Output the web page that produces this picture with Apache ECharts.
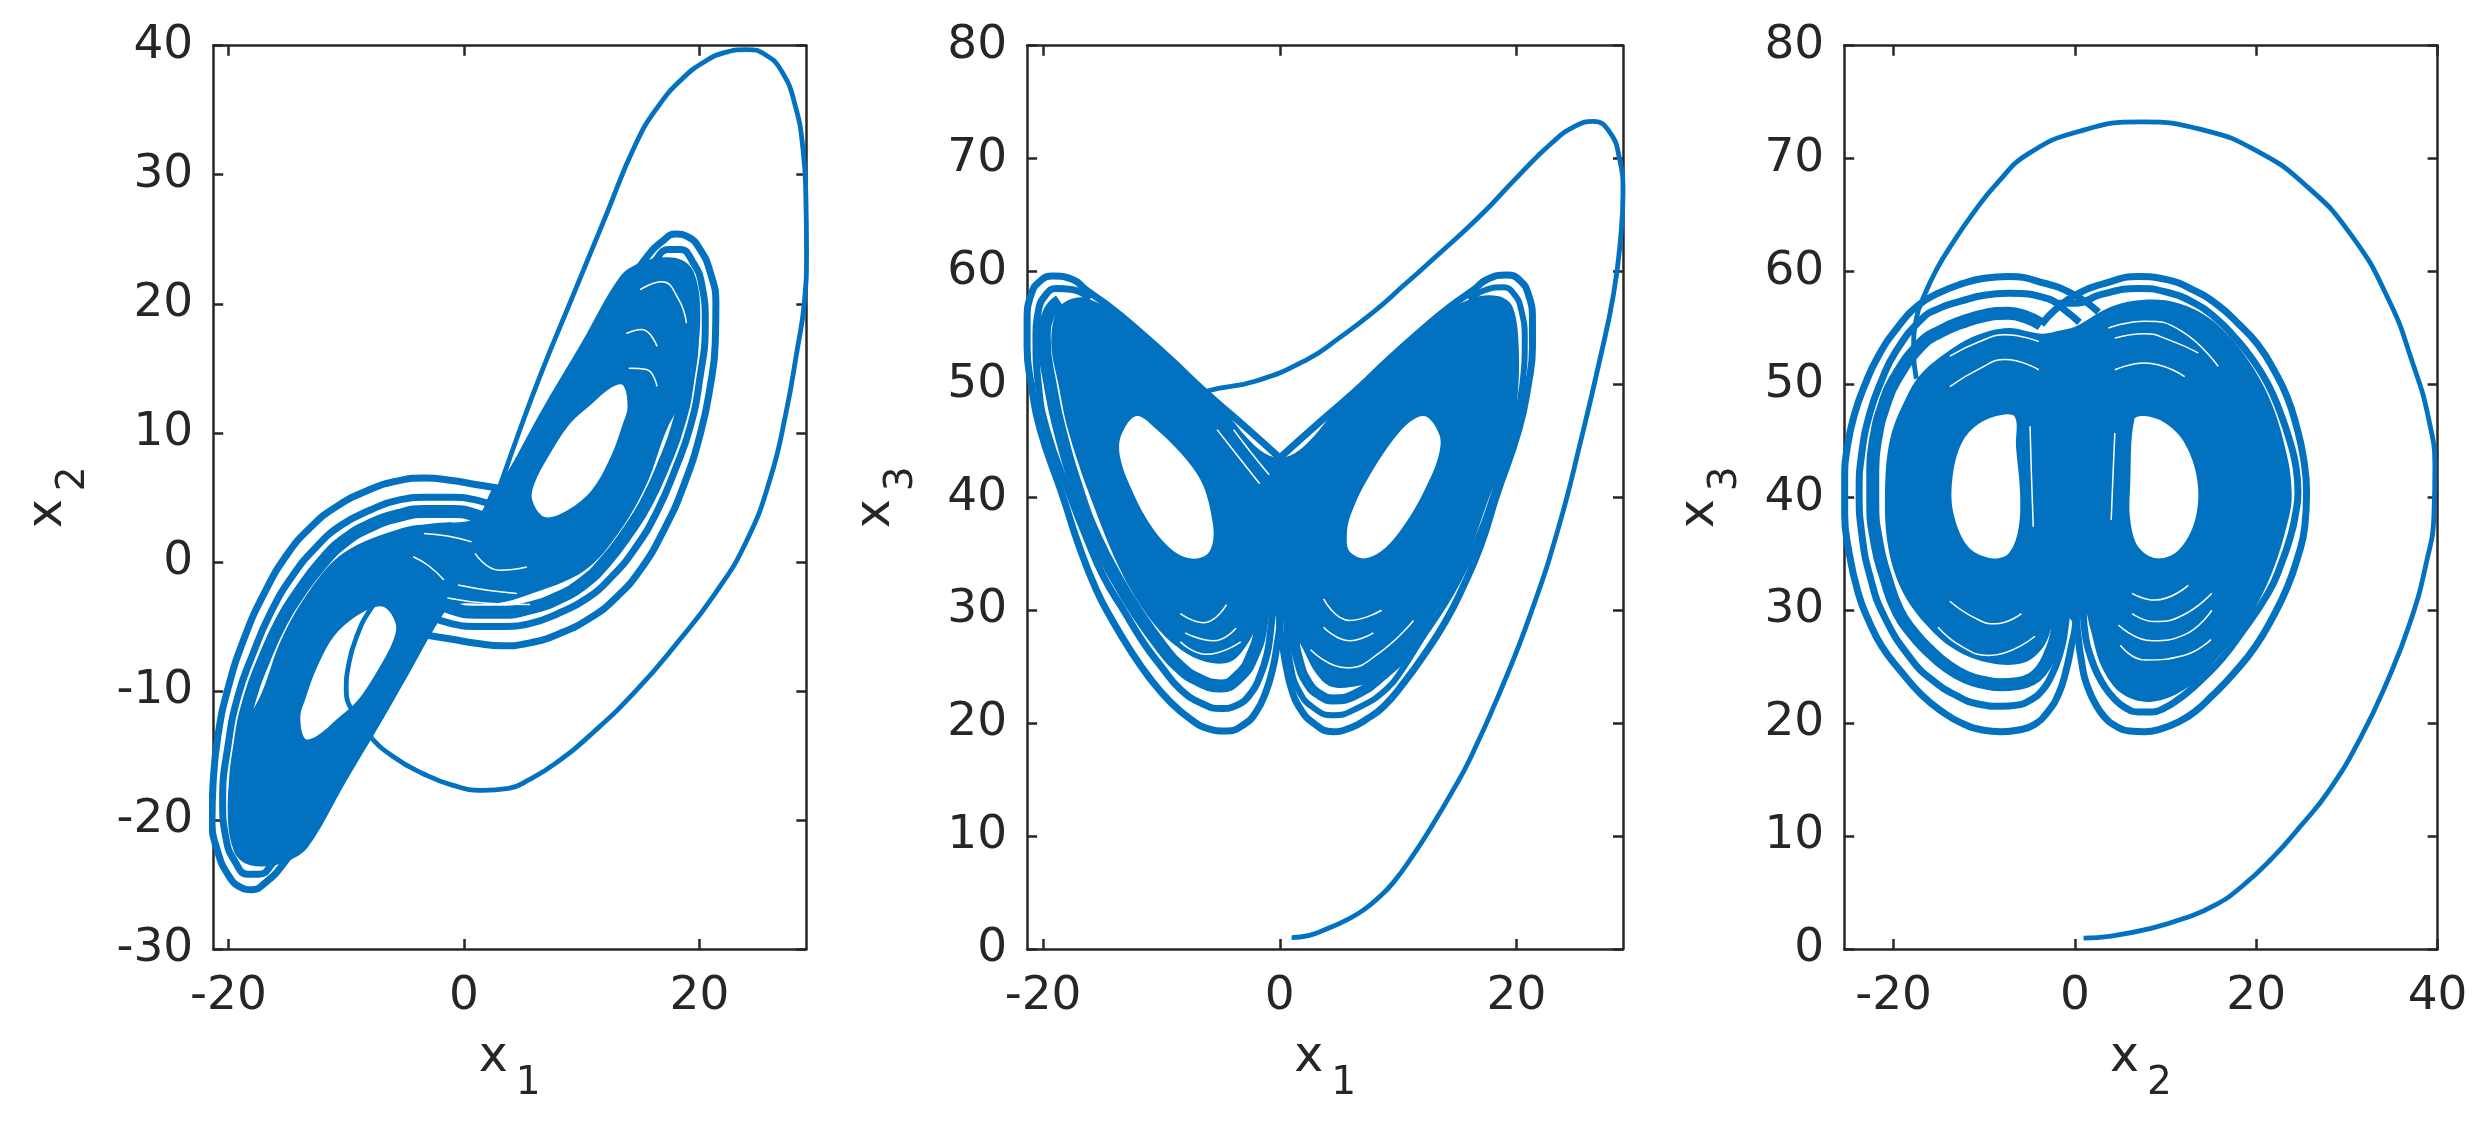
<!DOCTYPE html>
<html><head><meta charset="utf-8">
<style>html,body{margin:0;background:#fff}#c{width:2492px;height:1136px}</style>
<script src="https://cdn.jsdelivr.net/npm/echarts@6/dist/echarts.min.js"></script>
</head><body><div id="c"></div>
<script>
// ---- tick labels
const xTicks1=[-20,0,20], xTicks2=[-20,0,20], xTicks3=[-20,0,20,40];
// ---- panel 1 (x1, x2)
const p1Path=[[1,1],[2.7,5],[4.5,9.6],[6.46,14.4],[9.2,20.5],[12,26.7],[14.6,32.4],[16.5,35.3],[18.5,37.4],[20.5,38.8],[22.3,39.5],[24,39.7],[25.6,39.3],[27,38],[28.1,35.5],[28.8,32],[29.05,28],[29.1,24],[28.9,20],[28.3,16.4],[27.3,11.3],[26,6.4],[24,1.6],[21.3,-2.5],[18,-6.4],[14.6,-10],[11,-13.2],[7.8,-15.6],[5.5,-16.9],[3.8,-17.55],[1.5,-17.7],[-1,-17.3],[-3.5,-16.4],[-6,-15.1],[-8,-13.5],[-9.4,-11.7],[-10,-9.9],[-9.8,-8],[-9.2,-6],[-8,-3.75],[-6.5,-2.2]];
const p1Core=[[3.15,6.1],[6.5,11.6],[10,17],[13.25,22.1],[15,23.2],[17,23.6],[18.5,23.4],[19.5,22.5],[20.05,20],[19.8,16],[18.8,13],[17.2,10.2],[15.5,6],[13.1,2.2],[10.2,-0.7],[5.3,-2.6],[2.8,-3.2],[-1,-3.4],[-2.8,-5],[-3.15,-6.1],[-6.5,-11.6],[-10,-17],[-13.25,-22.1],[-15,-23.2],[-17,-23.6],[-18.5,-23.4],[-19.5,-22.5],[-20.05,-20],[-19.8,-16],[-18.8,-13],[-17.2,-10.2],[-15.5,-6],[-13.1,-2.2],[-10.2,0.7],[-5.3,2.6],[-2.5,3],[1,3.4],[2.5,5.8]];
const p1HoleL=[[-6.8,-3.5],[-5.8,-4.8],[-6,-6.1],[-7.2,-8.2],[-9,-10.7],[-10.8,-12.2],[-12.5,-13.5],[-13.5,-13.7],[-13.9,-12],[-13.5,-10.7],[-12.5,-8.2],[-10.8,-5.5],[-8.4,-3.8]];
const p1HoleR=[[6.8,3.5],[8.4,3.8],[10.8,5.5],[12.5,8.2],[13.5,10.7],[13.9,12],[13.5,13.7],[12.5,13.5],[10.8,12.2],[9,10.7],[7.2,8.2],[6,6.1],[5.8,4.8]];
const p1LeftA=[[3,5.7],[1,6],[-1,6.3],[-3.3,6.5],[-5.5,6.3],[-8,5.6],[-10.8,4.3],[-13,2.7],[-15,0.6],[-17,-2.5],[-18.7,-6],[-20.1,-10],[-20.9,-13.5],[-21.3,-17],[-21.4,-20],[-20.9,-22.5],[-20,-24.3],[-19,-25.2],[-18,-25.4],[-16.8,-24.8],[-15.5,-23.6],[-13.5,-21],[-10.4,-16.4],[-7,-11.2],[-4,-6.9],[-2,-3.9],[0,-1.3]];
const p1LeftB=[[3,4.2],[1,4.8],[-1,5],[-3.3,5],[-5.5,4.8],[-8,4],[-10.5,2.8],[-12.5,1.2],[-14.5,-1],[-16.4,-3.9],[-18,-7.3],[-19.2,-10.4],[-20,-14],[-20.5,-18.5],[-20.2,-21.5],[-19.4,-23.3],[-18.4,-24.2],[-17.4,-24.2],[-16.2,-23.3],[-14.3,-21]];
const p1LeftC=[[3,2.7],[1,3.6],[-1,3.9],[-3.3,3.9],[-5.5,3.6],[-8,2.8],[-10.2,1.6],[-12,0],[-14,-2.4],[-15.5,-4.6],[-17,-7.6],[-18.2,-10.6],[-19,-14],[-19.4,-18],[-19.1,-20.8],[-18.4,-22.2],[-17.4,-22.8],[-16.3,-22.3],[-15,-20.8]];
const p1RightA=[[-3,-5.7],[-1,-6],[1,-6.3],[3.3,-6.5],[5.5,-6.3],[8,-5.6],[10.8,-4.3],[13,-2.7],[15,-0.6],[17,2.5],[18.7,6],[20.1,10],[20.9,13.5],[21.35,17],[21.4,20],[20.9,22.5],[20,24.3],[19,25.2],[18,25.4],[16.8,24.8],[15.5,23.6],[13.5,21],[10.4,16.4],[7,11.2],[4,6.9],[2,3.9],[0,1.3]];
const p1RightB=[[-3,-4.2],[-1,-4.8],[1,-5],[3.3,-5],[5.5,-4.8],[8,-4],[10.5,-2.8],[12.5,-1.2],[14.5,1],[16.4,3.9],[18,7.3],[19.2,10.4],[20,14],[20.5,18.5],[20.2,21.5],[19.4,23.3],[18.4,24.2],[17.4,24.2],[16.2,23.3],[14.3,21]];
const p1RightC=[[-3,-2.7],[-1,-3.6],[1,-3.9],[3.3,-3.9],[5.5,-3.6],[8,-2.8],[10.2,-1.6],[12,0],[14,2.4],[15.5,4.6],[17,7.6],[18.2,10.6],[19,14],[19.4,18],[19.1,20.8],[18.4,22.2],[17.4,22.8],[16.3,22.3],[15,20.8]];
const p1Slivers=[[[-3.4,2.2],[-1.4,2],[0.66,1.55]],[[0.94,0.66],[3,-0.64],[5.35,-0.39]],[[-0.5,-1.8],[2,-2.2],[4.5,-2.45]],[[-1.4,-2.8],[2,-3.2],[5.6,-3.3]],[[14.96,21.1],[16.8,21.7],[18.2,20.4],[18.9,18.5]],[[13.8,17.7],[15.1,18],[16.4,16.7]],[[-4.3,0.4],[-3,-0.3],[-1.7,-1.4]],[[14,15],[15.5,14.9],[16.4,13.6]]];
// ---- panel 2 (x1, x3)
const p2Path=[[1,1],[2.5,1.2],[4,1.8],[5.5,2.5],[7,3.4],[8.4,4.6],[9.6,5.9],[11.2,8.2],[12.8,10.8],[14.5,13.8],[16.1,16.9],[18.7,23],[21.2,29.7],[23.6,37.5],[25.5,45.3],[27,52],[28.2,58],[28.8,63],[29,67],[28.7,70],[27.9,72.3],[26.5,73.3],[25,72.9],[23,71.4],[20,68.3],[17,65],[13.6,61.7],[10.5,58.8],[7.9,56.4],[5,54.1],[2.3,52.2],[-2,50.3],[-6.2,49.4],[-7.5,48.6]];
const p2Core=[[0,43.5],[6.6,50],[12.2,55.2],[16.2,57.6],[18.5,57.8],[19.7,56.8],[20.2,53],[20,48],[19.2,44],[17.7,40],[15.4,33.5],[13,29.5],[11,26.3],[8.5,24],[6,23.2],[4.2,23.3],[3,24.5],[2,26.5],[1.3,28],[0.7,30],[0,29.1],[-0.7,30],[-1.7,29.2],[-2.5,27.4],[-3.9,25.6],[-5.6,25.3],[-7.9,26.2],[-10.4,28.5],[-13.2,33],[-16,40],[-17.9,46],[-18.7,50],[-19.3,53.5],[-18.9,56.4],[-17.8,57.5],[-16.2,57.6],[-12.2,55.2],[-6.6,50]];
const p2HoleL=[[-12.1,47.2],[-13.4,45.5],[-13.5,43.6],[-12.65,41],[-11.2,38],[-9.27,35.5],[-7.6,34.6],[-6.2,34.9],[-5.66,36],[-5.66,37.7],[-6.45,41],[-7.86,43.3],[-10.4,46]];
const p2HoleR=[[12.2,47.2],[13.5,45.5],[13.4,43.6],[12.4,41],[11,38.3],[9,35.6],[7.2,34.6],[5.9,35.2],[5.66,36.5],[5.94,38.3],[7.35,41.5],[10.3,46]];
const p2LeftA=[[0,32],[0,29.1],[-0.25,26.8],[-0.6,24.8],[-1.2,22.7],[-2,21],[-3,19.9],[-4.5,19.3],[-6,19.5],[-7.6,20.4],[-9.27,21.9],[-11,24],[-12.65,26.5],[-14.2,29.2],[-15.5,31.8],[-17,35.8],[-18.3,40],[-20.25,46],[-21,50],[-21.35,53.3],[-21.35,55.7],[-21,58],[-20.3,59.1],[-19.2,59.6],[-17.5,59.3],[-16.4,58.4],[-14.4,56.9],[-12.2,55],[-9.2,52.2],[-6.6,49.6],[-3.3,46.6],[0,43.5]];
const p2LeftB=[[-0.4,32],[-0.8,28],[-1.1,26],[-1.7,24.1],[-2.4,22.7],[-3.6,21.6],[-5,21.3],[-6.5,21.7],[-8.4,23],[-10,25],[-11.5,27.1],[-13.2,30],[-14.9,33],[-16.4,36.6],[-17.7,40.1],[-19.7,46],[-20.4,50],[-20.6,54],[-20.4,56.5],[-19.8,57.9],[-18.9,58.5],[-17.5,58.4],[-16,57.6]];
const p2LeftC=[[-1.2,33],[-1.6,28.5],[-2.3,26],[-3.4,24.2],[-5,23.3],[-7,23.9],[-8.5,25],[-9.8,26.5],[-12,29.7],[-13.9,33],[-15.6,36.5],[-16.9,40],[-18.6,46],[-19.4,50],[-19.9,54],[-19.5,56.3],[-18.6,57.4]];
const p2RightA=[[0,32],[0,29.1],[0.3,26.5],[0.6,24.7],[1,23],[1.6,21.5],[2.85,20],[4.5,19.25],[6,19.6],[7.4,20.4],[8.8,21.5],[10.5,23.6],[12.1,25.9],[14,29],[15.5,32.1],[17,35.8],[18.3,40.1],[20.2,46],[21,50],[21.35,53.3],[21.35,55.7],[21,58],[20.3,59.2],[19.2,59.7],[17.5,59.3],[16.4,58.4],[14.4,56.9],[12.2,55],[9.2,52.2],[6.6,49.6],[3.3,46.6],[0,43.5]];
const p2RightB=[[0.4,32],[0.6,28],[0.9,25.2],[1.6,22.9],[2.8,21.4],[4.5,20.7],[6.5,21.3],[9,23],[10.5,25],[12,27.5],[13.6,30],[15,32.5],[16.6,36],[18,40],[19.7,46],[20.5,50],[20.7,54],[20.4,56.6],[19.8,58],[18.9,58.6],[17.2,58.3],[16,57.5]];
const p2RightC=[[1,33],[1.2,28],[1.6,25.5],[2.4,23.5],[3.4,22.5],[4.5,22.1],[6.5,22.6],[9,24.5],[11,26.6],[13,29.6]];
const p2Slivers=[[[-8.4,29.7],[-6.45,28.9],[-4.5,30.5]],[[-8,28],[-5.6,27.3],[-3.7,28.4]],[[-8.4,27.2],[-6.2,26.1],[-3.3,27.2]],[[3.7,31],[5.9,29.1],[8.6,30]],[[3.7,28.5],[5.9,27.3],[7.9,28]],[[2.6,26.5],[5.65,24.9],[8.5,26.3],[11.3,29.1]],[[-5.3,46],[-3.5,43.6],[-1.7,41.2]],[[-3.9,46],[-2.6,44.2],[-0.9,42]]];
// ---- panel 3 (x2, x3)
const p3Path=[[0.95,0.97],[4,1.15],[8.5,1.85],[12,2.7],[15.5,3.9],[18.5,5.6],[21.7,8],[24.8,10.8],[28,14],[31.5,18.7],[34.5,23.8],[37,29],[38.7,34],[39.6,38.5],[39.7,42.5],[39,47],[37.2,52],[34.6,57.5],[30.5,63.2],[25.5,67.6],[20,70.7],[14.3,72.5],[7.4,73.25],[0.4,72.4],[-5.2,70.4],[-8.5,67.9],[-11.2,65.2],[-13.5,62.5],[-15.25,60.2],[-16.5,58.1],[-17.5,55.8],[-17.8,53],[-17.5,50.5]];
const p3Core=[[0,55.1],[4.05,56.9],[7.7,57.5],[11.4,57.2],[15.1,55.7],[18.8,52.5],[21.7,48.3],[23.5,43.3],[23.9,40.4],[23.7,38.6],[22,33.9],[19.5,29.7],[16.2,26.2],[12.5,23.2],[8.5,21.9],[5.2,22.6],[2.95,25],[1.66,28.5],[1.1,29.9],[0.08,28.8],[-1.2,29.9],[-2,29.9],[-3.3,27],[-5.5,25.4],[-9.2,25.3],[-13.2,26.5],[-16.5,28.8],[-19.1,31.8],[-20.6,35.6],[-20.95,40.4],[-20.4,45.1],[-18.75,48.6],[-16.9,51],[-13.2,53.35],[-10.7,54.4],[-7.35,55],[-3.7,54.5],[-1.5,54.8]];
const p3HoleL=[[-8.1,47.3],[-10.65,46.5],[-12.5,44.8],[-13.5,41.8],[-13.4,38.6],[-11.75,35.6],[-9.2,34.6],[-7.35,35],[-6.25,37.1],[-6.05,40.4],[-6.5,44.5],[-6.6,47.1]];
const p3HoleR=[[7.7,47.2],[9.9,46.6],[12.1,44.8],[13.5,41.5],[13.25,38],[11.4,35.3],[9,34.6],[7,35.6],[6.1,38],[6.1,41.2],[6.55,46.9]];
const p3LeftA=[[2.6,56.4],[0,57.9],[-3.5,59],[-7.35,59.55],[-10,59.4],[-12.5,58.9],[-15,58.1],[-17.3,57],[-19.6,55],[-21.7,52.5],[-23.2,49.9],[-24.3,47.4],[-25.1,44.5],[-25.4,41.5],[-25.4,38.5],[-25,35.5],[-23.9,31.5],[-22.7,29],[-21.3,26.8],[-19.2,24.6],[-16.9,22.5],[-14.6,21],[-12.5,20],[-10.2,19.4],[-8.1,19.25],[-6.2,19.4],[-4.4,19.9],[-3,21],[-1.8,22.6],[-1,24.6],[-0.4,26.8],[0.07,28.8],[0.2,32]];
const p3LeftB=[[0.5,55.5],[-1,56.5],[-3,57.6],[-7.35,58.07],[-10,57.9],[-12.5,57.4],[-14.8,56.8],[-16.9,55.8],[-19.85,52.8],[-21.4,50.2],[-22.6,47.5],[-23.5,44],[-23.8,40.4],[-23.5,36.7],[-22.6,33],[-21,29.4],[-18,25.6],[-15.7,23.8],[-13.2,22.5],[-10.7,21.7],[-8.1,21.5],[-6.4,21.6],[-4.8,22.1],[-3.5,23],[-2.6,24.2],[-1.8,25.8],[-1.2,27.8],[-0.8,31]];
const p3LeftC=[[-3.7,55.3],[-5.5,56],[-7.35,56.3],[-10,56.1],[-12.5,55.5],[-14.8,54.7],[-16.9,53.6],[-19.85,50.4],[-21.1,48],[-21.9,45.5],[-22.3,42.5],[-22.3,39.5],[-21.8,35.8],[-20.9,33],[-19.5,29.9],[-17.8,27.9],[-16.2,26.5],[-14.2,25.1],[-12.1,24.1],[-10,23.6],[-8.1,23.4],[-6.4,23.5],[-4.8,23.9],[-3.7,24.7],[-2.9,25.8],[-2,28],[-1.7,31]];
const p3RightA=[[-3.7,55.3],[-2.2,56.6],[0,57.9],[3.5,59],[7,59.55],[10,59.3],[13.2,58.3],[15.8,57],[18,55.4],[20.2,53.5],[22,51.2],[23.4,48.9],[24.4,46.4],[25.2,43.5],[25.55,40.4],[25.35,37.4],[24.5,34.5],[23.4,32],[21.9,29.5],[19.9,26.8],[17.5,24.4],[15.1,22.4],[13.2,21],[11.4,20.1],[9.5,19.5],[7.7,19.25],[6,19.3],[4.4,19.8],[3.2,20.6],[2.2,21.8],[1.5,23],[0.9,24.6],[0.2,28.8],[0,32]];
const p3RightB=[[-1.8,57.2],[0,57.2],[3,58],[7,58.5],[10,58.2],[13.2,57.2],[15.5,55.9],[17.6,54.2],[19.6,52.2],[21.3,50],[22.6,47.6],[23.7,45],[24.4,42.6],[24.6,40.4],[24.3,38.4],[23.9,36.9],[22.8,34.2],[21.3,31.5],[18,27.6],[16.2,25.7],[14.3,24.1],[12.8,23],[11.4,22.1],[10,21.4],[8.5,21],[7,21],[5.5,21.4],[4.3,22.2],[3.3,23.2],[2.4,24.5],[1.85,25.6],[1.2,27.5],[0.9,30]];
const p3Slivers=[[[-13.8,52.5],[-10.5,53.8],[-7.7,54.4],[-4,53.8]],[[-13.8,49.8],[-10.5,51.4],[-7.7,52.2],[-4,51.3]],[[4.4,54.1],[7.7,54.5],[10.5,53.9],[13.6,52.8]],[[3.7,55],[7.7,55.6],[11.8,54.7],[15.8,51.6]],[[4.4,51.3],[7.7,51.9],[12.1,50.7]],[[-4.95,46.3],[-4.8,42],[-4.6,37.4]],[[4.4,45.7],[4.2,42],[4,38]],[[-13.8,30.8],[-11,29.3],[-8.8,28.8],[-5.9,29.7]],[[-15.1,28.5],[-12.5,26.8],[-9.5,26],[-4.4,27.7]],[[6.3,31.5],[8.8,30.9],[12.5,32.2]],[[6.3,29.7],[8.8,29],[12,29.6],[15.1,31.5]],[[4.8,28.7],[8.5,27.3],[12,27.8],[15.1,30]],[[5,26.9],[7.7,25.6],[12,26],[15,27.4]]];

const ink='#262626', blue='#0272C0', font='DejaVu Sans';
const panels=[
 {left:213.2,w:593.1,xmin:-21.3,xmax:29.08,ymin:-30,ymax:40,xt:xTicks1,xn:['x','1'],yn:['x','2'],gap:120,
  path:p1Path,core:p1Core,holes:[p1HoleL,p1HoleR],slivers:p1Slivers,bands:[[p1LeftA,7],[p1LeftB,7],[p1LeftC,13],[p1RightA,7],[p1RightB,7],[p1RightC,13]]},
 {left:1027.1,w:595.9,xmin:-21.35,xmax:29,ymin:0,ymax:80,xt:xTicks2,xn:['x','1'],yn:['x','3'],gap:106,
  path:p2Path,core:p2Core,holes:[p2HoleL,p2HoleR],slivers:p2Slivers,bands:[[p2LeftA,7],[p2LeftB,7],[p2LeftC,13],[p2RightA,7],[p2RightB,6],[p2RightC,10]]},
 {left:1844.2,w:593.4,xmin:-25.45,xmax:40,ymin:0,ymax:80,xt:xTicks3,xn:['x','2'],yn:['x','3'],gap:99,
  path:p3Path,core:p3Core,holes:[p3HoleL,p3HoleR],slivers:p3Slivers,bands:[[p3LeftA,7],[p3LeftB,7],[p3LeftC,13],[p3RightA,7],[p3RightB,7]]}
];
const gridTop=45.7,gridH=903.3;
const rich={a:{fontFamily:font,fontSize:49,color:ink},b:{fontFamily:font,fontSize:39,color:ink,padding:[50,0,0,8]}};
const grid=[],xAxis=[],yAxis=[],series=[];
function polygon(pts,fill,xi,yi,z){
  series.push({type:'custom',xAxisIndex:xi,yAxisIndex:yi,z,silent:true,clip:false,data:pts,encode:{x:0,y:1},
    renderItem(p,api){ if(p.dataIndex!==0) return null;
      return {type:'polygon',shape:{points:pts.map(q=>api.coord(q)),smooth:0.35},style:{fill}}; }});
}
function line(pts,w,xi,yi,z,color){
  series.push({type:'line',xAxisIndex:xi,yAxisIndex:yi,z,silent:true,clip:false,symbol:'none',smooth:0.5,data:pts,
    lineStyle:{color:color||blue,width:w,cap:'butt'},animation:false});
}
panels.forEach((p,i)=>{
  grid.push({left:p.left,top:gridTop,width:p.w,height:gridH,show:false});
  const xi=i*2,yi=i*2;
  const ax={lineStyle:{color:ink,width:2.5},onZero:false,show:true};
  const tick={show:true,inside:true,length:10,lineStyle:{color:ink,width:2.5}};
  xAxis.push({gridIndex:i,type:'value',position:'bottom',min:p.xmin,max:p.xmax,splitLine:{show:false},axisLine:ax,
    axisTick:{...tick,customValues:p.xt},
    axisLabel:{customValues:p.xt,fontFamily:font,fontSize:47,color:ink,margin:24,showMinLabel:true,showMaxLabel:true},
    name:`{a|${p.xn[0]}}{b|${p.xn[1]}}`,nameLocation:'middle',nameGap:65,nameTextStyle:{rich}});
  xAxis.push({gridIndex:i,type:'value',position:'top',min:p.xmin,max:p.xmax,splitLine:{show:false},axisLine:ax,
    axisTick:{...tick,customValues:p.xt},axisLabel:{show:false}});
  yAxis.push({gridIndex:i,type:'value',position:'left',min:p.ymin,max:p.ymax,interval:10,splitLine:{show:false},axisLine:ax,
    axisTick:tick,axisLabel:{fontFamily:font,fontSize:47,color:ink,margin:20,showMinLabel:true,showMaxLabel:true},
    name:`{a|${p.yn[0]}}{b|${p.yn[1]}}`,nameLocation:'middle',nameGap:p.gap,nameRotate:90,nameTextStyle:{rich}});
  yAxis.push({gridIndex:i,type:'value',position:'right',min:p.ymin,max:p.ymax,interval:10,splitLine:{show:false},axisLine:ax,
    axisTick:tick,axisLabel:{show:false}});
  polygon(p.core,blue,xi,yi,2);
  p.holes.forEach(h=>polygon(h,'#ffffff',xi,yi,3));
  p.bands.forEach(b=>line(b[0],b[1],xi,yi,4));
  p.slivers.forEach(s=>line(s,1.5,xi,yi,4.5,'#ffffff'));
  line(p.path,4.8,xi,yi,5);
});
const chart=echarts.init(document.getElementById('c'),null,{renderer:'canvas'});
chart.setOption({animation:false,backgroundColor:'#fff',grid,xAxis,yAxis,series});
</script></body></html>
